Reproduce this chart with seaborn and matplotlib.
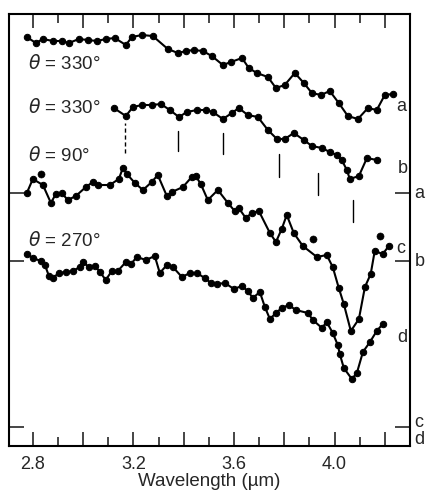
import numpy as np
import pandas as pd
import seaborn as sns
import matplotlib.pyplot as plt
from matplotlib.ticker import FixedLocator

# spectra, offset vertically (arbitrary units)
wl_a = [2.776, 2.812, 2.840, 2.880, 2.915, 2.943, 2.983, 3.019, 3.055, 3.090, 3.126,
        3.170, 3.194, 3.234, 3.277, 3.337, 3.377, 3.409, 3.440, 3.476, 3.512, 3.556,
        3.588, 3.632, 3.659, 3.691, 3.735, 3.767, 3.802, 3.842, 3.878, 3.910, 3.946,
        3.981, 4.017, 4.053, 4.093, 4.133, 4.168, 4.200, 4.232]
val_a = [4.09, 4.03, 4.07, 4.05, 4.05, 4.03, 4.07, 4.06, 4.05, 4.07, 4.08,
         4.01, 4.09, 4.11, 4.10, 3.97, 3.93, 3.95, 3.96, 3.95, 3.90, 3.81,
         3.84, 3.88, 3.78, 3.73, 3.69, 3.58, 3.61, 3.73, 3.63, 3.53, 3.51,
         3.55, 3.43, 3.30, 3.27, 3.38, 3.36, 3.51, 3.52]

wl_b = [3.122, 3.170, 3.198, 3.234, 3.273, 3.309, 3.345, 3.381, 3.413, 3.452, 3.488,
        3.516, 3.556, 3.592, 3.619, 3.655, 3.695, 3.735, 3.771, 3.802, 3.838, 3.878,
        3.910, 3.950, 3.981, 4.009, 4.029, 4.049, 4.061, 4.097, 4.129, 4.168]
val_b = [3.38, 3.30, 3.39, 3.41, 3.41, 3.42, 3.36, 3.29, 3.34, 3.36, 3.36,
         3.34, 3.27, 3.33, 3.38, 3.31, 3.29, 3.16, 3.07, 3.07, 3.13, 3.06,
         3.00, 2.98, 2.94, 2.91, 2.86, 2.76, 2.67, 2.70, 2.88, 2.86]

wl_c = [2.776, 2.800, 2.840, 2.872, 2.891, 2.915, 2.939, 2.971, 3.011, 3.039, 3.059,
        3.106, 3.142, 3.158, 3.174, 3.206, 3.238, 3.273, 3.297, 3.333, 3.353, 3.397,
        3.432, 3.448, 3.468, 3.496, 3.536, 3.576, 3.603, 3.619, 3.647, 3.671, 3.699,
        3.743, 3.767, 3.790, 3.810, 3.838, 3.874, 3.930, 3.969, 3.993, 4.017, 4.037,
        4.065, 4.097, 4.121, 4.144, 4.160, 4.192, 4.216]
val_c = [2.53, 2.67, 2.61, 2.43, 2.52, 2.53, 2.46, 2.50, 2.59, 2.64, 2.61,
         2.61, 2.67, 2.78, 2.72, 2.63, 2.56, 2.64, 2.71, 2.50, 2.54, 2.59,
         2.69, 2.70, 2.62, 2.46, 2.56, 2.43, 2.35, 2.38, 2.28, 2.33, 2.35,
         2.13, 2.04, 2.17, 2.31, 2.13, 2.00, 1.89, 1.91, 1.79, 1.58, 1.42,
         1.15, 1.27, 1.59, 1.72, 1.95, 1.92, 2.00]
# scattered points of c that lie off the drawn curve
wl_c_off = [2.832, 3.914, 4.180]
val_c_off = [2.72, 2.07, 2.10]

wl_d = [2.776, 2.800, 2.832, 2.848, 2.864, 2.880, 2.903, 2.931, 2.959, 2.987, 2.999,
        3.023, 3.047, 3.067, 3.090, 3.114, 3.138, 3.170, 3.190, 3.214, 3.250, 3.285,
        3.305, 3.333, 3.357, 3.393, 3.425, 3.452, 3.484, 3.508, 3.532, 3.564, 3.600,
        3.631, 3.655, 3.675, 3.703, 3.723, 3.743, 3.767, 3.790, 3.818, 3.846, 3.894,
        3.914, 3.950, 3.969, 3.993, 4.013, 4.021, 4.037, 4.069, 4.089, 4.113, 4.141,
        4.168, 4.192]
val_d = [1.92, 1.88, 1.85, 1.81, 1.70, 1.68, 1.73, 1.74, 1.75, 1.79, 1.84,
         1.79, 1.80, 1.74, 1.66, 1.75, 1.75, 1.84, 1.82, 1.89, 1.86, 1.90,
         1.73, 1.81, 1.79, 1.69, 1.73, 1.73, 1.68, 1.63, 1.62, 1.63, 1.57,
         1.60, 1.55, 1.48, 1.54, 1.39, 1.27, 1.33, 1.38, 1.41, 1.36, 1.33,
         1.26, 1.18, 1.24, 1.13, 1.01, 0.92, 0.78, 0.67, 0.73, 0.94, 1.04,
         1.15, 1.22]

# band position markers under curve b
band_wl = [3.166, 3.377, 3.556, 3.779, 3.934, 4.073]
band_top = [3.23, 3.15, 3.13, 2.92, 2.73, 2.46]
band_bot = [2.93, 2.95, 2.92, 2.69, 2.51, 2.24]
band_dashed = [True, False, False, False, False, False]

# zero levels of the offset spectra
zero_levels = [2.53, 1.85, 0.19]
zero_label_y = [2.53, 1.85, 0.23, 0.06]
zero_label_names = ["a", "b", "c", "d"]

angle_labels = ["$\\theta$ = 330°", "$\\theta$ = 330°", "$\\theta$ = 90°", "$\\theta$ = 270°"]
angle_y = [3.83, 3.39, 2.91, 2.06]
curve_names = ["a", "b", "c", "d"]
curve_label_xy = [(4.245, 3.40), (4.25, 2.78), (4.245, 1.98), (4.25, 1.09)]

sns.set_style("ticks")
plt.rcParams["font.family"] = ["Liberation Sans", "DejaVu Sans"]

fig = plt.figure(figsize=(4.27, 4.90), dpi=100)
ax = fig.add_axes([0.021, 0.0898, 0.939, 0.8816])

for wl, val in [(wl_a, val_a), (wl_b, val_b), (wl_c, val_c), (wl_d, val_d)]:
    df = pd.DataFrame({"wl": wl, "val": val})
    sns.lineplot(data=df, x="wl", y="val", ax=ax, color="black", lw=1.5,
                 marker="o", markersize=4.6, markeredgecolor="black", sort=False)

sns.scatterplot(x=wl_c_off, y=val_c_off, ax=ax, color="black", s=26, edgecolor="black")

for x, y0, y1, dashed in zip(band_wl, band_bot, band_top, band_dashed):
    ax.plot([x, x], [y0, y1], color="black", lw=1.0,
            ls=(0, (3, 2)) if dashed else "-")

for txt, y in zip(angle_labels, angle_y):
    ax.text(2.78, y, txt, fontsize=13.5, va="center", ha="left")
for name, (x, y) in zip(curve_names, curve_label_xy):
    ax.text(x, y, name, fontsize=13, va="center", ha="left")

ax.set_xlim(2.705, 4.30)
ax.set_ylim(0, 4.32)

ax.xaxis.set_major_locator(FixedLocator([2.8, 3.0, 3.2, 3.4, 3.6, 3.8, 4.0, 4.2]))
ax.set_xticklabels(["2.8", "", "3.2", "", "3.6", "", "4.0", ""])
ax.xaxis.set_minor_locator(FixedLocator([2.9, 3.1, 3.3, 3.5, 3.7, 3.9, 4.1]))
ax.tick_params(axis="x", which="major", direction="in", length=10, width=1.2,
               top=True, labelsize=13, pad=7)
ax.tick_params(axis="x", which="minor", direction="in", length=6.5, width=1.2, top=True)

# zero-level ticks on both sides, letters drawn as text on the right
ax.set_yticks(zero_levels)
ax.set_yticklabels([])
ax.tick_params(axis="y", which="major", direction="in", length=11, width=1.2,
               left=True, right=True, labelleft=False, labelright=False)
for name, y in zip(zero_label_names, zero_label_y):
    ax.text(1.012, y / 4.32, name, transform=ax.transAxes, fontsize=13,
            va="center", ha="left")

for s in ax.spines.values():
    s.set_linewidth(1.5)
    s.set_color("black")

ax.set_xlabel("Wavelength (µm)", fontsize=13.5, labelpad=0)
ax.set_ylabel("")

fig.savefig("out.png", dpi=100)
